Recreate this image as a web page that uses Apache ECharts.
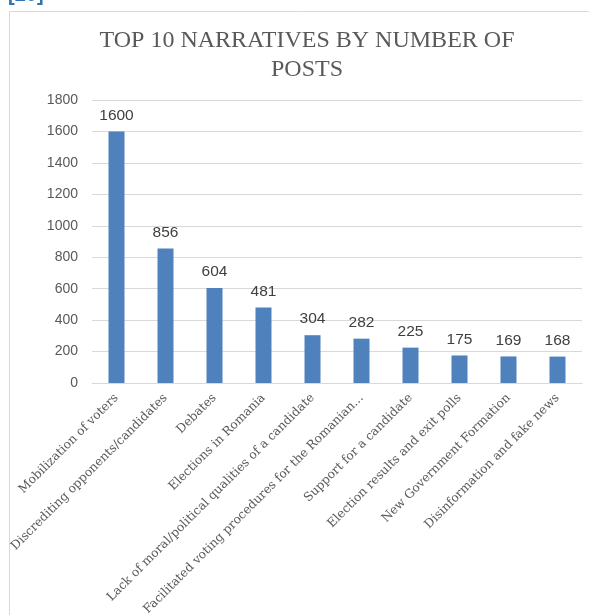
<!DOCTYPE html>
<html>
<head>
<meta charset="utf-8">
<script src="https://cdn.jsdelivr.net/npm/echarts@6/dist/echarts.min.js"></script>
<style>html,body{margin:0;padding:0;background:#fff;}#c{width:589px;height:615px;}</style>
</head>
<body>
<div id="c"></div>
<script>
const categories = [
  "Mobilization of voters",
  "Discrediting opponents/candidates",
  "Debates",
  "Elections in Romania",
  "Lack of moral/political qualities of a candidate",
  "Facilitated voting procedures for the Romanian...",
  "Support for a candidate",
  "Election results and exit polls",
  "New Government Formation",
  "Disinformation and fake news"
];
const posts = [1600, 856, 604, 481, 304, 282, 225, 175, 169, 168];
const yTicks = { min: 0, max: 1800, interval: 200 };
const titleText = "TOP 10 NARRATIVES BY NUMBER OF\nPOSTS";

const chart = echarts.init(document.getElementById('c'), null, {renderer: 'canvas'});
chart.setOption({
  backgroundColor: '#fff',
  animation: false,
  title: {
    text: titleText,
    left: 302, top: 21, textAlign: 'center',
    textStyle: { fontFamily: 'Liberation Serif', fontWeight: 'normal', fontSize: 24, color: '#595959', lineHeight: 29 }
  },
  graphic: [
    { type: 'rect', shape: { x: 9.5, y: 11.5, width: 700, height: 700 }, style: { fill: 'none', stroke: '#d9d9d9', lineWidth: 1 }, z: -1 },
    { type: 'text', left: 8, top: -15, style: { text: '[20]', fontSize: 20, fontWeight: 'bold', fontFamily: 'Liberation Sans', fill: '#2e74b5' } }
  ],
  grid: { left: 92, right: 7, top: 100, bottom: 232, containLabel: false, outerBoundsMode: 'none' },
  xAxis: {
    type: 'category', data: categories,
    axisLine: { lineStyle: { color: '#d9d9d9' } },
    axisTick: { show: false },
    axisLabel: { rotate: 45, interval: 0, margin: 13, fontFamily: 'DejaVu Serif', fontSize: 12.2, color: '#595959' }
  },
  yAxis: {
    type: 'value', min: yTicks.min, max: yTicks.max, interval: yTicks.interval,
    axisLine: { show: false }, axisTick: { show: false },
    splitLine: { lineStyle: { color: '#d9d9d9' } },
    axisLabel: { margin: 14, fontFamily: 'Liberation Sans', fontSize: 14, color: '#595959', formatter: v => String(v) }
  },
  series: [{
    type: 'bar', data: posts, barWidth: 16,
    itemStyle: { color: '#4f81bd' },
    label: { show: true, position: 'top', distance: 8, fontFamily: 'Liberation Sans', fontSize: 15.5, color: '#404040' }
  }]
});
</script>
</body>
</html>
